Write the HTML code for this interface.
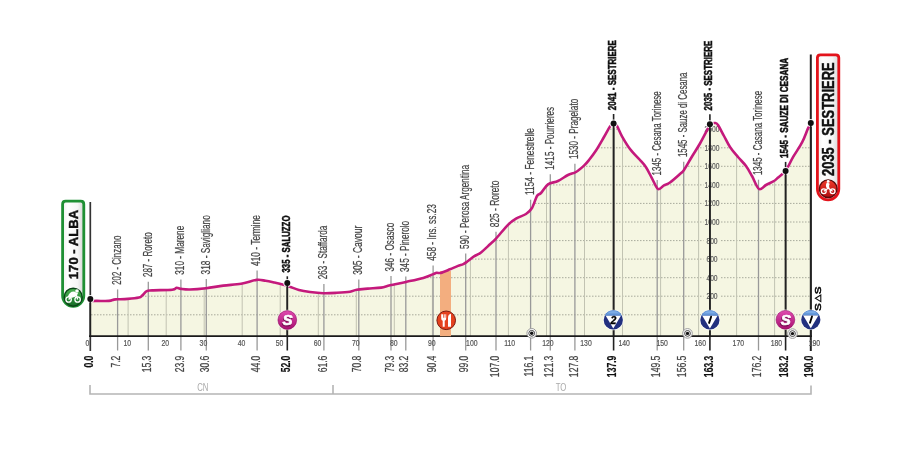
<!DOCTYPE html>
<html><head><meta charset="utf-8"><style>
html,body{margin:0;padding:0;background:#fff;width:900px;height:450px;overflow:hidden}
svg{display:block;will-change:transform}
text{font-family:"Liberation Sans",sans-serif}
</style></head><body>
<svg width="900" height="450" viewBox="0 0 900 450">
<defs>
<linearGradient id="gS" x1="0" y1="0" x2="0" y2="1"><stop offset="0" stop-color="#e04bb0"/><stop offset="1" stop-color="#a8106f"/></linearGradient>
<linearGradient id="gB" x1="0" y1="0" x2="0" y2="1"><stop offset="0" stop-color="#5b8fd6"/><stop offset="0.45" stop-color="#2a3f9a"/><stop offset="1" stop-color="#1d2a78"/></linearGradient>
<linearGradient id="gG" x1="0" y1="0" x2="0" y2="1"><stop offset="0" stop-color="#4cb252"/><stop offset="0.6" stop-color="#2a8a38"/><stop offset="1" stop-color="#166a26"/></linearGradient>
<linearGradient id="gR" x1="0" y1="0" x2="0" y2="1"><stop offset="0" stop-color="#f03a2a"/><stop offset="1" stop-color="#b00d10"/></linearGradient>
<linearGradient id="gBox" x1="0" y1="0" x2="1" y2="0"><stop offset="0" stop-color="#f0f0f0"/><stop offset="0.25" stop-color="#ffffff"/><stop offset="0.7" stop-color="#f6f6f6"/><stop offset="1" stop-color="#d6d6d6"/></linearGradient>
</defs>

<path d="M90,336.2 L90.00,301.00 C91.12,300.98 93.55,300.92 96.70,300.90 C99.85,300.88 106.03,301.12 108.90,300.90 C111.77,300.68 112.52,299.87 113.90,299.60 C115.28,299.33 114.88,299.42 117.20,299.30 C119.52,299.18 124.18,299.20 127.80,298.90 C131.42,298.60 136.50,298.05 138.90,297.50 C141.30,296.95 140.90,296.65 142.20,295.60 C143.50,294.55 145.03,292.07 146.70,291.20 C148.37,290.33 147.95,290.65 152.20,290.40 C156.45,290.15 168.12,290.13 172.20,289.70 C176.28,289.27 175.22,287.93 176.70,287.80 C178.18,287.67 178.88,288.62 181.10,288.90 C183.32,289.18 185.83,289.62 190.00,289.50 C194.17,289.38 200.55,288.85 206.10,288.20 C211.65,287.55 217.47,286.35 223.30,285.60 C229.13,284.85 235.53,284.65 241.10,283.70 C246.67,282.75 252.62,280.38 256.70,279.90 C260.78,279.42 262.65,280.35 265.60,280.80 C268.55,281.25 271.27,281.90 274.40,282.60 C277.53,283.30 281.80,284.32 284.40,285.00 C287.00,285.68 287.58,285.87 290.00,286.70 C292.42,287.53 295.57,289.12 298.90,290.00 C302.23,290.88 305.93,291.47 310.00,292.00 C314.07,292.53 318.85,293.07 323.30,293.20 C327.75,293.33 332.25,293.05 336.70,292.80 C341.15,292.55 346.67,292.22 350.00,291.70 C353.33,291.18 353.73,290.22 356.70,289.70 C359.67,289.18 363.73,288.95 367.80,288.60 C371.87,288.25 377.40,288.15 381.10,287.60 C384.80,287.05 385.85,286.25 390.00,285.30 C394.15,284.35 400.45,283.13 406.00,281.90 C411.55,280.67 418.85,279.15 423.30,277.90 C427.75,276.65 430.47,275.25 432.70,274.40 C434.93,273.55 435.37,273.05 436.70,272.80 C438.03,272.55 438.48,273.48 440.70,272.90 C442.92,272.32 447.12,270.47 450.00,269.30 C452.88,268.13 455.78,266.75 458.00,265.90 C460.22,265.05 461.63,265.02 463.30,264.20 C464.97,263.38 466.22,262.30 468.00,261.00 C469.78,259.70 471.88,257.78 474.00,256.40 C476.12,255.02 478.03,254.72 480.70,252.70 C483.37,250.68 487.45,246.65 490.00,244.30 C492.55,241.95 493.00,241.85 496.00,238.60 C499.00,235.35 504.67,228.13 508.00,224.80 C511.33,221.47 513.00,220.40 516.00,218.60 C519.00,216.80 523.33,215.77 526.00,214.00 C528.67,212.23 530.17,211.00 532.00,208.00 C533.83,205.00 535.50,198.50 537.00,196.00 C538.50,193.50 539.17,194.93 541.00,193.00 C542.83,191.07 545.17,186.40 548.00,184.40 C550.83,182.40 554.67,182.57 558.00,181.00 C561.33,179.43 565.00,176.50 568.00,175.00 C571.00,173.50 573.33,173.57 576.00,172.00 C578.67,170.43 581.83,167.60 584.00,165.60 C586.17,163.60 587.00,162.52 589.00,160.00 C591.00,157.48 593.50,154.33 596.00,150.50 C598.50,146.67 601.67,141.00 604.00,137.00 C606.33,133.00 608.40,128.73 610.00,126.50 C611.60,124.27 612.43,123.68 613.60,123.60 C614.77,123.52 615.60,123.88 617.00,126.00 C618.40,128.12 619.83,132.47 622.00,136.30 C624.17,140.13 627.00,145.05 630.00,149.00 C633.00,152.95 637.33,156.95 640.00,160.00 C642.67,163.05 644.00,164.25 646.00,167.30 C648.00,170.35 650.00,174.68 652.00,178.30 C654.00,181.92 656.00,187.83 658.00,189.00 C660.00,190.17 662.00,186.38 664.00,185.30 C666.00,184.22 667.33,184.38 670.00,182.50 C672.67,180.62 677.67,176.08 680.00,174.00 C682.33,171.92 682.00,172.92 684.00,170.00 C686.00,167.08 689.33,160.92 692.00,156.50 C694.67,152.08 697.50,147.87 700.00,143.50 C702.50,139.13 705.33,133.48 707.00,130.30 C708.67,127.12 708.67,125.62 710.00,124.40 C711.33,123.18 713.67,122.90 715.00,123.00 C716.33,123.10 716.50,122.83 718.00,125.00 C719.50,127.17 722.00,132.33 724.00,136.00 C726.00,139.67 727.67,143.50 730.00,147.00 C732.33,150.50 735.33,153.83 738.00,157.00 C740.67,160.17 743.67,162.83 746.00,166.00 C748.33,169.17 749.83,172.17 752.00,176.00 C754.17,179.83 756.67,187.50 759.00,189.00 C761.33,190.50 763.50,186.33 766.00,185.00 C768.50,183.67 772.03,182.20 774.00,181.00 C775.97,179.80 775.87,179.52 777.80,177.80 C779.73,176.08 783.02,174.22 785.60,170.70 C788.18,167.18 790.53,161.45 793.30,156.70 C796.07,151.95 799.78,146.83 802.20,142.20 C804.62,137.57 806.38,132.02 807.80,128.90 C809.22,125.78 810.22,124.40 810.70,123.50 L810.7,336.2 Z" fill="#f5f6e2"/>
<clipPath id="cp"><path d="M90,336.2 L90.00,301.00 C91.12,300.98 93.55,300.92 96.70,300.90 C99.85,300.88 106.03,301.12 108.90,300.90 C111.77,300.68 112.52,299.87 113.90,299.60 C115.28,299.33 114.88,299.42 117.20,299.30 C119.52,299.18 124.18,299.20 127.80,298.90 C131.42,298.60 136.50,298.05 138.90,297.50 C141.30,296.95 140.90,296.65 142.20,295.60 C143.50,294.55 145.03,292.07 146.70,291.20 C148.37,290.33 147.95,290.65 152.20,290.40 C156.45,290.15 168.12,290.13 172.20,289.70 C176.28,289.27 175.22,287.93 176.70,287.80 C178.18,287.67 178.88,288.62 181.10,288.90 C183.32,289.18 185.83,289.62 190.00,289.50 C194.17,289.38 200.55,288.85 206.10,288.20 C211.65,287.55 217.47,286.35 223.30,285.60 C229.13,284.85 235.53,284.65 241.10,283.70 C246.67,282.75 252.62,280.38 256.70,279.90 C260.78,279.42 262.65,280.35 265.60,280.80 C268.55,281.25 271.27,281.90 274.40,282.60 C277.53,283.30 281.80,284.32 284.40,285.00 C287.00,285.68 287.58,285.87 290.00,286.70 C292.42,287.53 295.57,289.12 298.90,290.00 C302.23,290.88 305.93,291.47 310.00,292.00 C314.07,292.53 318.85,293.07 323.30,293.20 C327.75,293.33 332.25,293.05 336.70,292.80 C341.15,292.55 346.67,292.22 350.00,291.70 C353.33,291.18 353.73,290.22 356.70,289.70 C359.67,289.18 363.73,288.95 367.80,288.60 C371.87,288.25 377.40,288.15 381.10,287.60 C384.80,287.05 385.85,286.25 390.00,285.30 C394.15,284.35 400.45,283.13 406.00,281.90 C411.55,280.67 418.85,279.15 423.30,277.90 C427.75,276.65 430.47,275.25 432.70,274.40 C434.93,273.55 435.37,273.05 436.70,272.80 C438.03,272.55 438.48,273.48 440.70,272.90 C442.92,272.32 447.12,270.47 450.00,269.30 C452.88,268.13 455.78,266.75 458.00,265.90 C460.22,265.05 461.63,265.02 463.30,264.20 C464.97,263.38 466.22,262.30 468.00,261.00 C469.78,259.70 471.88,257.78 474.00,256.40 C476.12,255.02 478.03,254.72 480.70,252.70 C483.37,250.68 487.45,246.65 490.00,244.30 C492.55,241.95 493.00,241.85 496.00,238.60 C499.00,235.35 504.67,228.13 508.00,224.80 C511.33,221.47 513.00,220.40 516.00,218.60 C519.00,216.80 523.33,215.77 526.00,214.00 C528.67,212.23 530.17,211.00 532.00,208.00 C533.83,205.00 535.50,198.50 537.00,196.00 C538.50,193.50 539.17,194.93 541.00,193.00 C542.83,191.07 545.17,186.40 548.00,184.40 C550.83,182.40 554.67,182.57 558.00,181.00 C561.33,179.43 565.00,176.50 568.00,175.00 C571.00,173.50 573.33,173.57 576.00,172.00 C578.67,170.43 581.83,167.60 584.00,165.60 C586.17,163.60 587.00,162.52 589.00,160.00 C591.00,157.48 593.50,154.33 596.00,150.50 C598.50,146.67 601.67,141.00 604.00,137.00 C606.33,133.00 608.40,128.73 610.00,126.50 C611.60,124.27 612.43,123.68 613.60,123.60 C614.77,123.52 615.60,123.88 617.00,126.00 C618.40,128.12 619.83,132.47 622.00,136.30 C624.17,140.13 627.00,145.05 630.00,149.00 C633.00,152.95 637.33,156.95 640.00,160.00 C642.67,163.05 644.00,164.25 646.00,167.30 C648.00,170.35 650.00,174.68 652.00,178.30 C654.00,181.92 656.00,187.83 658.00,189.00 C660.00,190.17 662.00,186.38 664.00,185.30 C666.00,184.22 667.33,184.38 670.00,182.50 C672.67,180.62 677.67,176.08 680.00,174.00 C682.33,171.92 682.00,172.92 684.00,170.00 C686.00,167.08 689.33,160.92 692.00,156.50 C694.67,152.08 697.50,147.87 700.00,143.50 C702.50,139.13 705.33,133.48 707.00,130.30 C708.67,127.12 708.67,125.62 710.00,124.40 C711.33,123.18 713.67,122.90 715.00,123.00 C716.33,123.10 716.50,122.83 718.00,125.00 C719.50,127.17 722.00,132.33 724.00,136.00 C726.00,139.67 727.67,143.50 730.00,147.00 C732.33,150.50 735.33,153.83 738.00,157.00 C740.67,160.17 743.67,162.83 746.00,166.00 C748.33,169.17 749.83,172.17 752.00,176.00 C754.17,179.83 756.67,187.50 759.00,189.00 C761.33,190.50 763.50,186.33 766.00,185.00 C768.50,183.67 772.03,182.20 774.00,181.00 C775.97,179.80 775.87,179.52 777.80,177.80 C779.73,176.08 783.02,174.22 785.60,170.70 C788.18,167.18 790.53,161.45 793.30,156.70 C796.07,151.95 799.78,146.83 802.20,142.20 C804.62,137.57 806.38,132.02 807.80,128.90 C809.22,125.78 810.22,124.40 810.70,123.50 L810.7,336.2 Z"/></clipPath>
<g clip-path="url(#cp)">
<line x1="91" y1="314.8" x2="810" y2="314.8" stroke="#a8aa9c" stroke-width="1" stroke-dasharray="1.5 1.5"/>
<line x1="91" y1="296.2" x2="810" y2="296.2" stroke="#a8aa9c" stroke-width="1" stroke-dasharray="1.5 1.5"/>
<line x1="91" y1="277.7" x2="810" y2="277.7" stroke="#a8aa9c" stroke-width="1" stroke-dasharray="1.5 1.5"/>
<line x1="91" y1="259.1" x2="810" y2="259.1" stroke="#a8aa9c" stroke-width="1" stroke-dasharray="1.5 1.5"/>
<line x1="91" y1="240.6" x2="810" y2="240.6" stroke="#a8aa9c" stroke-width="1" stroke-dasharray="1.5 1.5"/>
<line x1="91" y1="222.0" x2="810" y2="222.0" stroke="#a8aa9c" stroke-width="1" stroke-dasharray="1.5 1.5"/>
<line x1="91" y1="203.4" x2="810" y2="203.4" stroke="#a8aa9c" stroke-width="1" stroke-dasharray="1.5 1.5"/>
<line x1="91" y1="184.9" x2="810" y2="184.9" stroke="#a8aa9c" stroke-width="1" stroke-dasharray="1.5 1.5"/>
<line x1="91" y1="166.3" x2="810" y2="166.3" stroke="#a8aa9c" stroke-width="1" stroke-dasharray="1.5 1.5"/>
<line x1="91" y1="147.8" x2="810" y2="147.8" stroke="#a8aa9c" stroke-width="1" stroke-dasharray="1.5 1.5"/>
<line x1="91" y1="129.2" x2="810" y2="129.2" stroke="#a8aa9c" stroke-width="1" stroke-dasharray="1.5 1.5"/>
<line x1="128.1" y1="100" x2="128.1" y2="336.2" stroke="#c2c3b2" stroke-width="1"/>
<line x1="166.2" y1="100" x2="166.2" y2="336.2" stroke="#c2c3b2" stroke-width="1"/>
<line x1="204.2" y1="100" x2="204.2" y2="336.2" stroke="#c2c3b2" stroke-width="1"/>
<line x1="242.2" y1="100" x2="242.2" y2="336.2" stroke="#c2c3b2" stroke-width="1"/>
<line x1="280.2" y1="100" x2="280.2" y2="336.2" stroke="#c2c3b2" stroke-width="1"/>
<line x1="318.3" y1="100" x2="318.3" y2="336.2" stroke="#c2c3b2" stroke-width="1"/>
<line x1="356.3" y1="100" x2="356.3" y2="336.2" stroke="#c2c3b2" stroke-width="1"/>
<line x1="394.3" y1="100" x2="394.3" y2="336.2" stroke="#c2c3b2" stroke-width="1"/>
<line x1="432.4" y1="100" x2="432.4" y2="336.2" stroke="#c2c3b2" stroke-width="1"/>
<line x1="470.4" y1="100" x2="470.4" y2="336.2" stroke="#c2c3b2" stroke-width="1"/>
<line x1="508.4" y1="100" x2="508.4" y2="336.2" stroke="#c2c3b2" stroke-width="1"/>
<line x1="546.5" y1="100" x2="546.5" y2="336.2" stroke="#c2c3b2" stroke-width="1"/>
<line x1="584.5" y1="100" x2="584.5" y2="336.2" stroke="#c2c3b2" stroke-width="1"/>
<line x1="622.5" y1="100" x2="622.5" y2="336.2" stroke="#c2c3b2" stroke-width="1"/>
<line x1="660.6" y1="100" x2="660.6" y2="336.2" stroke="#c2c3b2" stroke-width="1"/>
<line x1="698.6" y1="100" x2="698.6" y2="336.2" stroke="#c2c3b2" stroke-width="1"/>
<line x1="736.6" y1="100" x2="736.6" y2="336.2" stroke="#c2c3b2" stroke-width="1"/>
<line x1="774.6" y1="100" x2="774.6" y2="336.2" stroke="#c2c3b2" stroke-width="1"/>
</g>
<rect x="703.5" y="292.7" width="17" height="7" fill="#f5f6e2" clip-path="url(#cp)"/>
<text x="712" y="299.2" font-size="8.4" fill="#5a5a5a" stroke="#5a5a5a" stroke-width="0.2" text-anchor="middle" transform="translate(712,0) scale(0.8,1) translate(-712,0)">200</text>
<rect x="703.5" y="274.2" width="17" height="7" fill="#f5f6e2" clip-path="url(#cp)"/>
<text x="712" y="280.7" font-size="8.4" fill="#5a5a5a" stroke="#5a5a5a" stroke-width="0.2" text-anchor="middle" transform="translate(712,0) scale(0.8,1) translate(-712,0)">400</text>
<rect x="703.5" y="255.6" width="17" height="7" fill="#f5f6e2" clip-path="url(#cp)"/>
<text x="712" y="262.1" font-size="8.4" fill="#5a5a5a" stroke="#5a5a5a" stroke-width="0.2" text-anchor="middle" transform="translate(712,0) scale(0.8,1) translate(-712,0)">600</text>
<rect x="703.5" y="237.1" width="17" height="7" fill="#f5f6e2" clip-path="url(#cp)"/>
<text x="712" y="243.6" font-size="8.4" fill="#5a5a5a" stroke="#5a5a5a" stroke-width="0.2" text-anchor="middle" transform="translate(712,0) scale(0.8,1) translate(-712,0)">800</text>
<rect x="703.5" y="218.5" width="17" height="7" fill="#f5f6e2" clip-path="url(#cp)"/>
<text x="712" y="225.0" font-size="8.4" fill="#5a5a5a" stroke="#5a5a5a" stroke-width="0.2" text-anchor="middle" transform="translate(712,0) scale(0.8,1) translate(-712,0)">1000</text>
<rect x="703.5" y="199.9" width="17" height="7" fill="#f5f6e2" clip-path="url(#cp)"/>
<text x="712" y="206.4" font-size="8.4" fill="#5a5a5a" stroke="#5a5a5a" stroke-width="0.2" text-anchor="middle" transform="translate(712,0) scale(0.8,1) translate(-712,0)">1200</text>
<rect x="703.5" y="181.4" width="17" height="7" fill="#f5f6e2" clip-path="url(#cp)"/>
<text x="712" y="187.9" font-size="8.4" fill="#5a5a5a" stroke="#5a5a5a" stroke-width="0.2" text-anchor="middle" transform="translate(712,0) scale(0.8,1) translate(-712,0)">1400</text>
<rect x="703.5" y="162.8" width="17" height="7" fill="#f5f6e2" clip-path="url(#cp)"/>
<text x="712" y="169.3" font-size="8.4" fill="#5a5a5a" stroke="#5a5a5a" stroke-width="0.2" text-anchor="middle" transform="translate(712,0) scale(0.8,1) translate(-712,0)">1600</text>
<rect x="703.5" y="144.3" width="17" height="7" fill="#f5f6e2" clip-path="url(#cp)"/>
<text x="712" y="150.8" font-size="8.4" fill="#5a5a5a" stroke="#5a5a5a" stroke-width="0.2" text-anchor="middle" transform="translate(712,0) scale(0.8,1) translate(-712,0)">1800</text>
<rect x="703.5" y="125.7" width="17" height="7" fill="#f5f6e2" clip-path="url(#cp)"/>
<text x="712" y="132.2" font-size="8.4" fill="#5a5a5a" stroke="#5a5a5a" stroke-width="0.2" text-anchor="middle" transform="translate(712,0) scale(0.8,1) translate(-712,0)">2000</text>
<line x1="117.6" y1="289.4" x2="117.6" y2="350.5" stroke="#999" stroke-width="1.3"/>
<line x1="148.3" y1="281.7" x2="148.3" y2="350.5" stroke="#999" stroke-width="1.3"/>
<line x1="180.9" y1="279.4" x2="180.9" y2="350.5" stroke="#999" stroke-width="1.3"/>
<line x1="206.3" y1="279.0" x2="206.3" y2="350.5" stroke="#999" stroke-width="1.3"/>
<line x1="257.1" y1="270.6" x2="257.1" y2="350.5" stroke="#999" stroke-width="1.3"/>
<line x1="287.3" y1="276.3" x2="287.3" y2="350.5" stroke="#222" stroke-width="1.6"/>
<line x1="323.9" y1="283.9" x2="323.9" y2="350.5" stroke="#999" stroke-width="1.3"/>
<line x1="358.8" y1="279.4" x2="358.8" y2="350.5" stroke="#999" stroke-width="1.3"/>
<line x1="391.0" y1="276.1" x2="391.0" y2="350.5" stroke="#999" stroke-width="1.3"/>
<line x1="405.8" y1="276.6" x2="405.8" y2="350.5" stroke="#999" stroke-width="1.3"/>
<line x1="433.1" y1="265.4" x2="433.1" y2="350.5" stroke="#999" stroke-width="1.3"/>
<line x1="465.7" y1="253.5" x2="465.7" y2="350.5" stroke="#999" stroke-width="1.3"/>
<line x1="496.0" y1="231.8" x2="496.0" y2="350.5" stroke="#999" stroke-width="1.3"/>
<line x1="530.6" y1="199.7" x2="530.6" y2="350.5" stroke="#999" stroke-width="1.3"/>
<line x1="550.3" y1="174.3" x2="550.3" y2="350.5" stroke="#999" stroke-width="1.3"/>
<line x1="574.9" y1="163.7" x2="574.9" y2="350.5" stroke="#999" stroke-width="1.3"/>
<line x1="613.6" y1="114.0" x2="613.6" y2="350.5" stroke="#222" stroke-width="1.6"/>
<line x1="657.2" y1="180.0" x2="657.2" y2="350.5" stroke="#999" stroke-width="1.3"/>
<line x1="683.7" y1="161.7" x2="683.7" y2="350.5" stroke="#999" stroke-width="1.3"/>
<line x1="709.9" y1="114.2" x2="709.9" y2="350.5" stroke="#222" stroke-width="1.6"/>
<line x1="758.5" y1="179.7" x2="758.5" y2="350.5" stroke="#999" stroke-width="1.3"/>
<line x1="785.6" y1="161.9" x2="785.6" y2="350.5" stroke="#222" stroke-width="1.6"/>
<line x1="90.3" y1="202" x2="90.3" y2="351" stroke="#333" stroke-width="1.7"/>
<line x1="810.8" y1="54.5" x2="810.8" y2="351" stroke="#222" stroke-width="2"/>
<line x1="89" y1="336.2" x2="812" y2="336.2" stroke="#1a1a1a" stroke-width="1.8"/>
<rect x="440" y="271" width="11" height="65.2" fill="#f3ae7f"/>
<path d="M90.00,301.00 C91.12,300.98 93.55,300.92 96.70,300.90 C99.85,300.88 106.03,301.12 108.90,300.90 C111.77,300.68 112.52,299.87 113.90,299.60 C115.28,299.33 114.88,299.42 117.20,299.30 C119.52,299.18 124.18,299.20 127.80,298.90 C131.42,298.60 136.50,298.05 138.90,297.50 C141.30,296.95 140.90,296.65 142.20,295.60 C143.50,294.55 145.03,292.07 146.70,291.20 C148.37,290.33 147.95,290.65 152.20,290.40 C156.45,290.15 168.12,290.13 172.20,289.70 C176.28,289.27 175.22,287.93 176.70,287.80 C178.18,287.67 178.88,288.62 181.10,288.90 C183.32,289.18 185.83,289.62 190.00,289.50 C194.17,289.38 200.55,288.85 206.10,288.20 C211.65,287.55 217.47,286.35 223.30,285.60 C229.13,284.85 235.53,284.65 241.10,283.70 C246.67,282.75 252.62,280.38 256.70,279.90 C260.78,279.42 262.65,280.35 265.60,280.80 C268.55,281.25 271.27,281.90 274.40,282.60 C277.53,283.30 281.80,284.32 284.40,285.00 C287.00,285.68 287.58,285.87 290.00,286.70 C292.42,287.53 295.57,289.12 298.90,290.00 C302.23,290.88 305.93,291.47 310.00,292.00 C314.07,292.53 318.85,293.07 323.30,293.20 C327.75,293.33 332.25,293.05 336.70,292.80 C341.15,292.55 346.67,292.22 350.00,291.70 C353.33,291.18 353.73,290.22 356.70,289.70 C359.67,289.18 363.73,288.95 367.80,288.60 C371.87,288.25 377.40,288.15 381.10,287.60 C384.80,287.05 385.85,286.25 390.00,285.30 C394.15,284.35 400.45,283.13 406.00,281.90 C411.55,280.67 418.85,279.15 423.30,277.90 C427.75,276.65 430.47,275.25 432.70,274.40 C434.93,273.55 435.37,273.05 436.70,272.80 C438.03,272.55 438.48,273.48 440.70,272.90 C442.92,272.32 447.12,270.47 450.00,269.30 C452.88,268.13 455.78,266.75 458.00,265.90 C460.22,265.05 461.63,265.02 463.30,264.20 C464.97,263.38 466.22,262.30 468.00,261.00 C469.78,259.70 471.88,257.78 474.00,256.40 C476.12,255.02 478.03,254.72 480.70,252.70 C483.37,250.68 487.45,246.65 490.00,244.30 C492.55,241.95 493.00,241.85 496.00,238.60 C499.00,235.35 504.67,228.13 508.00,224.80 C511.33,221.47 513.00,220.40 516.00,218.60 C519.00,216.80 523.33,215.77 526.00,214.00 C528.67,212.23 530.17,211.00 532.00,208.00 C533.83,205.00 535.50,198.50 537.00,196.00 C538.50,193.50 539.17,194.93 541.00,193.00 C542.83,191.07 545.17,186.40 548.00,184.40 C550.83,182.40 554.67,182.57 558.00,181.00 C561.33,179.43 565.00,176.50 568.00,175.00 C571.00,173.50 573.33,173.57 576.00,172.00 C578.67,170.43 581.83,167.60 584.00,165.60 C586.17,163.60 587.00,162.52 589.00,160.00 C591.00,157.48 593.50,154.33 596.00,150.50 C598.50,146.67 601.67,141.00 604.00,137.00 C606.33,133.00 608.40,128.73 610.00,126.50 C611.60,124.27 612.43,123.68 613.60,123.60 C614.77,123.52 615.60,123.88 617.00,126.00 C618.40,128.12 619.83,132.47 622.00,136.30 C624.17,140.13 627.00,145.05 630.00,149.00 C633.00,152.95 637.33,156.95 640.00,160.00 C642.67,163.05 644.00,164.25 646.00,167.30 C648.00,170.35 650.00,174.68 652.00,178.30 C654.00,181.92 656.00,187.83 658.00,189.00 C660.00,190.17 662.00,186.38 664.00,185.30 C666.00,184.22 667.33,184.38 670.00,182.50 C672.67,180.62 677.67,176.08 680.00,174.00 C682.33,171.92 682.00,172.92 684.00,170.00 C686.00,167.08 689.33,160.92 692.00,156.50 C694.67,152.08 697.50,147.87 700.00,143.50 C702.50,139.13 705.33,133.48 707.00,130.30 C708.67,127.12 708.67,125.62 710.00,124.40 C711.33,123.18 713.67,122.90 715.00,123.00 C716.33,123.10 716.50,122.83 718.00,125.00 C719.50,127.17 722.00,132.33 724.00,136.00 C726.00,139.67 727.67,143.50 730.00,147.00 C732.33,150.50 735.33,153.83 738.00,157.00 C740.67,160.17 743.67,162.83 746.00,166.00 C748.33,169.17 749.83,172.17 752.00,176.00 C754.17,179.83 756.67,187.50 759.00,189.00 C761.33,190.50 763.50,186.33 766.00,185.00 C768.50,183.67 772.03,182.20 774.00,181.00 C775.97,179.80 775.87,179.52 777.80,177.80 C779.73,176.08 783.02,174.22 785.60,170.70 C788.18,167.18 790.53,161.45 793.30,156.70 C796.07,151.95 799.78,146.83 802.20,142.20 C804.62,137.57 806.38,132.02 807.80,128.90 C809.22,125.78 810.22,124.40 810.70,123.50" fill="none" stroke="#c4197c" stroke-width="2.6" stroke-linejoin="round" stroke-linecap="round"/>
<circle cx="90.3" cy="299.1" r="4.0" fill="#fff" opacity="0.9"/>
<line x1="90.3" y1="299.1" x2="90.3" y2="336.2" stroke="#222" stroke-width="1.6"/>
<circle cx="90.3" cy="299.1" r="3.0" fill="#111"/>
<circle cx="287.3" cy="283.0" r="4.0" fill="#fff" opacity="0.9"/>
<line x1="287.3" y1="283.0" x2="287.3" y2="336.2" stroke="#222" stroke-width="1.6"/>
<circle cx="287.3" cy="283.0" r="3.0" fill="#111"/>
<circle cx="613.6" cy="123.6" r="4.0" fill="#fff" opacity="0.9"/>
<line x1="613.6" y1="123.6" x2="613.6" y2="336.2" stroke="#222" stroke-width="1.6"/>
<circle cx="613.6" cy="123.6" r="3.0" fill="#111"/>
<circle cx="709.9" cy="124.3" r="4.0" fill="#fff" opacity="0.9"/>
<line x1="709.9" y1="124.3" x2="709.9" y2="336.2" stroke="#222" stroke-width="1.6"/>
<circle cx="709.9" cy="124.3" r="3.0" fill="#111"/>
<circle cx="785.6" cy="170.9" r="4.0" fill="#fff" opacity="0.9"/>
<line x1="785.6" y1="170.9" x2="785.6" y2="336.2" stroke="#222" stroke-width="1.6"/>
<circle cx="785.6" cy="170.9" r="3.0" fill="#111"/>
<circle cx="810.8" cy="122.9" r="4.0" fill="#fff" opacity="0.9"/>
<line x1="810.8" y1="122.9" x2="810.8" y2="336.2" stroke="#222" stroke-width="1.6"/>
<circle cx="810.8" cy="122.9" r="3.0" fill="#111"/>
<text transform="translate(120.9,284.8) rotate(-90)" font-size="12.2" fill="#444" stroke="#444" stroke-width="0.22" textLength="49.1" lengthAdjust="spacingAndGlyphs">202 - Cinzano</text>
<text transform="translate(151.6,277.1) rotate(-90)" font-size="12.2" fill="#444" stroke="#444" stroke-width="0.22" textLength="44.8" lengthAdjust="spacingAndGlyphs">287 - Roreto</text>
<text transform="translate(184.2,274.8) rotate(-90)" font-size="12.2" fill="#444" stroke="#444" stroke-width="0.22" textLength="49.1" lengthAdjust="spacingAndGlyphs">310 - Marene</text>
<text transform="translate(209.6,274.4) rotate(-90)" font-size="12.2" fill="#444" stroke="#444" stroke-width="0.22" textLength="59.2" lengthAdjust="spacingAndGlyphs">318 - Savigliano</text>
<text transform="translate(260.4,266.0) rotate(-90)" font-size="12.2" fill="#444" stroke="#444" stroke-width="0.22" textLength="51.0" lengthAdjust="spacingAndGlyphs">410 - Termine</text>
<text transform="translate(289.5,272.5) rotate(-90)" font-size="10.8" font-weight="bold" fill="#111" stroke="#111" stroke-width="0.5" textLength="57.0" lengthAdjust="spacingAndGlyphs">335 - SALUZZO</text>
<text transform="translate(327.2,279.3) rotate(-90)" font-size="12.2" fill="#444" stroke="#444" stroke-width="0.22" textLength="53.6" lengthAdjust="spacingAndGlyphs">263 - Staffarda</text>
<text transform="translate(362.1,274.8) rotate(-90)" font-size="12.2" fill="#444" stroke="#444" stroke-width="0.22" textLength="49.1" lengthAdjust="spacingAndGlyphs">305 - Cavour</text>
<text transform="translate(394.3,271.5) rotate(-90)" font-size="12.2" fill="#444" stroke="#444" stroke-width="0.22" textLength="48.7" lengthAdjust="spacingAndGlyphs">346 - Osasco</text>
<text transform="translate(409.1,272.0) rotate(-90)" font-size="12.2" fill="#444" stroke="#444" stroke-width="0.22" textLength="51.2" lengthAdjust="spacingAndGlyphs">345 - Pinerolo</text>
<text transform="translate(436.4,260.8) rotate(-90)" font-size="12.2" fill="#444" stroke="#444" stroke-width="0.22" textLength="56.7" lengthAdjust="spacingAndGlyphs">458 - Ins. ss.23</text>
<text transform="translate(469.0,248.9) rotate(-90)" font-size="12.2" fill="#444" stroke="#444" stroke-width="0.22" textLength="84.1" lengthAdjust="spacingAndGlyphs">590 - Perosa Argentina</text>
<text transform="translate(499.3,227.2) rotate(-90)" font-size="12.2" fill="#444" stroke="#444" stroke-width="0.22" textLength="46.5" lengthAdjust="spacingAndGlyphs">825 - Roreto</text>
<text transform="translate(533.9,195.1) rotate(-90)" font-size="12.2" fill="#444" stroke="#444" stroke-width="0.22" textLength="67.0" lengthAdjust="spacingAndGlyphs">1154 - Fenestrelle</text>
<text transform="translate(553.6,169.7) rotate(-90)" font-size="12.2" fill="#444" stroke="#444" stroke-width="0.22" textLength="62.9" lengthAdjust="spacingAndGlyphs">1415 - Pourrieres</text>
<text transform="translate(578.2,159.1) rotate(-90)" font-size="12.2" fill="#444" stroke="#444" stroke-width="0.22" textLength="60.3" lengthAdjust="spacingAndGlyphs">1530 - Pragelato</text>
<text transform="translate(615.8,110.2) rotate(-90)" font-size="10.8" font-weight="bold" fill="#111" stroke="#111" stroke-width="0.5" textLength="70.1" lengthAdjust="spacingAndGlyphs">2041 - SESTRIERE</text>
<text transform="translate(660.5,175.4) rotate(-90)" font-size="12.2" fill="#444" stroke="#444" stroke-width="0.22" textLength="84.1" lengthAdjust="spacingAndGlyphs">1345 - Cesana Torinese</text>
<text transform="translate(687.0,157.1) rotate(-90)" font-size="12.2" fill="#444" stroke="#444" stroke-width="0.22" textLength="84.6" lengthAdjust="spacingAndGlyphs">1545 - Sauze di Cesana</text>
<text transform="translate(712.1,110.4) rotate(-90)" font-size="10.8" font-weight="bold" fill="#111" stroke="#111" stroke-width="0.5" textLength="69.6" lengthAdjust="spacingAndGlyphs">2035 - SESTRIERE</text>
<text transform="translate(761.8,175.1) rotate(-90)" font-size="12.2" fill="#444" stroke="#444" stroke-width="0.22" textLength="84.3" lengthAdjust="spacingAndGlyphs">1345 - Casana Torinese</text>
<text transform="translate(787.8,158.1) rotate(-90)" font-size="10.8" font-weight="bold" fill="#111" stroke="#111" stroke-width="0.5" textLength="100.3" lengthAdjust="spacingAndGlyphs">1545 - SAUZE DI CESANA</text>
<text x="85.4" y="345.6" font-size="8.6" fill="#555" stroke="#555" stroke-width="0.2" text-anchor="start" transform="translate(85.4,0) scale(0.8,1) translate(-85.4,0)">0</text>
<text x="123.5" y="345.6" font-size="8.6" fill="#555" stroke="#555" stroke-width="0.2" text-anchor="start" transform="translate(123.5,0) scale(0.8,1) translate(-123.5,0)">10</text>
<text x="161.5" y="345.6" font-size="8.6" fill="#555" stroke="#555" stroke-width="0.2" text-anchor="start" transform="translate(161.5,0) scale(0.8,1) translate(-161.5,0)">20</text>
<text x="199.6" y="345.6" font-size="8.6" fill="#555" stroke="#555" stroke-width="0.2" text-anchor="start" transform="translate(199.6,0) scale(0.8,1) translate(-199.6,0)">30</text>
<text x="237.7" y="345.6" font-size="8.6" fill="#555" stroke="#555" stroke-width="0.2" text-anchor="start" transform="translate(237.7,0) scale(0.8,1) translate(-237.7,0)">40</text>
<text x="275.8" y="345.6" font-size="8.6" fill="#555" stroke="#555" stroke-width="0.2" text-anchor="start" transform="translate(275.8,0) scale(0.8,1) translate(-275.8,0)">50</text>
<text x="313.8" y="345.6" font-size="8.6" fill="#555" stroke="#555" stroke-width="0.2" text-anchor="start" transform="translate(313.8,0) scale(0.8,1) translate(-313.8,0)">60</text>
<text x="351.9" y="345.6" font-size="8.6" fill="#555" stroke="#555" stroke-width="0.2" text-anchor="start" transform="translate(351.9,0) scale(0.8,1) translate(-351.9,0)">70</text>
<text x="390.0" y="345.6" font-size="8.6" fill="#555" stroke="#555" stroke-width="0.2" text-anchor="start" transform="translate(390.0,0) scale(0.8,1) translate(-390.0,0)">80</text>
<text x="428.0" y="345.6" font-size="8.6" fill="#555" stroke="#555" stroke-width="0.2" text-anchor="start" transform="translate(428.0,0) scale(0.8,1) translate(-428.0,0)">90</text>
<text x="466.1" y="345.6" font-size="8.6" fill="#555" stroke="#555" stroke-width="0.2" text-anchor="start" transform="translate(466.1,0) scale(0.8,1) translate(-466.1,0)">100</text>
<text x="504.2" y="345.6" font-size="8.6" fill="#555" stroke="#555" stroke-width="0.2" text-anchor="start" transform="translate(504.2,0) scale(0.8,1) translate(-504.2,0)">110</text>
<text x="542.2" y="345.6" font-size="8.6" fill="#555" stroke="#555" stroke-width="0.2" text-anchor="start" transform="translate(542.2,0) scale(0.8,1) translate(-542.2,0)">120</text>
<text x="580.3" y="345.6" font-size="8.6" fill="#555" stroke="#555" stroke-width="0.2" text-anchor="start" transform="translate(580.3,0) scale(0.8,1) translate(-580.3,0)">130</text>
<text x="618.4" y="345.6" font-size="8.6" fill="#555" stroke="#555" stroke-width="0.2" text-anchor="start" transform="translate(618.4,0) scale(0.8,1) translate(-618.4,0)">140</text>
<text x="656.4" y="345.6" font-size="8.6" fill="#555" stroke="#555" stroke-width="0.2" text-anchor="start" transform="translate(656.4,0) scale(0.8,1) translate(-656.4,0)">150</text>
<text x="694.5" y="345.6" font-size="8.6" fill="#555" stroke="#555" stroke-width="0.2" text-anchor="start" transform="translate(694.5,0) scale(0.8,1) translate(-694.5,0)">160</text>
<text x="732.6" y="345.6" font-size="8.6" fill="#555" stroke="#555" stroke-width="0.2" text-anchor="start" transform="translate(732.6,0) scale(0.8,1) translate(-732.6,0)">170</text>
<text x="770.7" y="345.6" font-size="8.6" fill="#555" stroke="#555" stroke-width="0.2" text-anchor="start" transform="translate(770.7,0) scale(0.8,1) translate(-770.7,0)">180</text>
<text x="808.7" y="345.6" font-size="8.6" fill="#555" stroke="#555" stroke-width="0.2" text-anchor="start" transform="translate(808.7,0) scale(0.8,1) translate(-808.7,0)">190</text>
<text transform="translate(92.9,355.7) rotate(-90) scale(0.72,1)" font-size="11.9" font-weight="bold" fill="#111" stroke="#111" stroke-width="0.2" text-anchor="end">0.0</text>
<text transform="translate(120.2,355.7) rotate(-90) scale(0.72,1)" font-size="11.9" fill="#444" stroke="#444" stroke-width="0.25" text-anchor="end">7.2</text>
<text transform="translate(150.9,355.7) rotate(-90) scale(0.72,1)" font-size="11.9" fill="#444" stroke="#444" stroke-width="0.25" text-anchor="end">15.3</text>
<text transform="translate(183.5,355.7) rotate(-90) scale(0.72,1)" font-size="11.9" fill="#444" stroke="#444" stroke-width="0.25" text-anchor="end">23.9</text>
<text transform="translate(208.9,355.7) rotate(-90) scale(0.72,1)" font-size="11.9" fill="#444" stroke="#444" stroke-width="0.25" text-anchor="end">30.6</text>
<text transform="translate(259.7,355.7) rotate(-90) scale(0.72,1)" font-size="11.9" fill="#444" stroke="#444" stroke-width="0.25" text-anchor="end">44.0</text>
<text transform="translate(289.9,355.7) rotate(-90) scale(0.72,1)" font-size="11.9" font-weight="bold" fill="#111" stroke="#111" stroke-width="0.2" text-anchor="end">52.0</text>
<text transform="translate(326.5,355.7) rotate(-90) scale(0.72,1)" font-size="11.9" fill="#444" stroke="#444" stroke-width="0.25" text-anchor="end">61.6</text>
<text transform="translate(361.4,355.7) rotate(-90) scale(0.72,1)" font-size="11.9" fill="#444" stroke="#444" stroke-width="0.25" text-anchor="end">70.8</text>
<text transform="translate(393.6,355.7) rotate(-90) scale(0.72,1)" font-size="11.9" fill="#444" stroke="#444" stroke-width="0.25" text-anchor="end">79.3</text>
<text transform="translate(408.4,355.7) rotate(-90) scale(0.72,1)" font-size="11.9" fill="#444" stroke="#444" stroke-width="0.25" text-anchor="end">83.2</text>
<text transform="translate(435.7,355.7) rotate(-90) scale(0.72,1)" font-size="11.9" fill="#444" stroke="#444" stroke-width="0.25" text-anchor="end">90.4</text>
<text transform="translate(468.3,355.7) rotate(-90) scale(0.72,1)" font-size="11.9" fill="#444" stroke="#444" stroke-width="0.25" text-anchor="end">99.0</text>
<text transform="translate(498.6,355.7) rotate(-90) scale(0.72,1)" font-size="11.9" fill="#444" stroke="#444" stroke-width="0.25" text-anchor="end">107.0</text>
<text transform="translate(533.2,355.7) rotate(-90) scale(0.72,1)" font-size="11.9" fill="#444" stroke="#444" stroke-width="0.25" text-anchor="end">116.1</text>
<text transform="translate(552.9,355.7) rotate(-90) scale(0.72,1)" font-size="11.9" fill="#444" stroke="#444" stroke-width="0.25" text-anchor="end">121.3</text>
<text transform="translate(577.5,355.7) rotate(-90) scale(0.72,1)" font-size="11.9" fill="#444" stroke="#444" stroke-width="0.25" text-anchor="end">127.8</text>
<text transform="translate(616.2,355.7) rotate(-90) scale(0.72,1)" font-size="11.9" font-weight="bold" fill="#111" stroke="#111" stroke-width="0.2" text-anchor="end">137.9</text>
<text transform="translate(659.8,355.7) rotate(-90) scale(0.72,1)" font-size="11.9" fill="#444" stroke="#444" stroke-width="0.25" text-anchor="end">149.5</text>
<text transform="translate(686.3,355.7) rotate(-90) scale(0.72,1)" font-size="11.9" fill="#444" stroke="#444" stroke-width="0.25" text-anchor="end">156.5</text>
<text transform="translate(712.5,355.7) rotate(-90) scale(0.72,1)" font-size="11.9" font-weight="bold" fill="#111" stroke="#111" stroke-width="0.2" text-anchor="end">163.3</text>
<text transform="translate(761.1,355.7) rotate(-90) scale(0.72,1)" font-size="11.9" fill="#444" stroke="#444" stroke-width="0.25" text-anchor="end">176.2</text>
<text transform="translate(788.2,355.7) rotate(-90) scale(0.72,1)" font-size="11.9" font-weight="bold" fill="#111" stroke="#111" stroke-width="0.2" text-anchor="end">183.2</text>
<text transform="translate(813.4,355.7) rotate(-90) scale(0.72,1)" font-size="11.9" font-weight="bold" fill="#111" stroke="#111" stroke-width="0.2" text-anchor="end">190.0</text>
<path d="M90,385 V394 H811 V385.5 M333,385 V394" fill="none" stroke="#b5b5b5" stroke-width="1.6"/>
<text x="202.8" y="391" font-size="10" fill="#aaa" text-anchor="middle" transform="translate(202.8,0) scale(0.78,1) translate(-202.8,0)">CN</text>
<text x="561" y="391" font-size="10" fill="#aaa" text-anchor="middle" transform="translate(561,0) scale(0.78,1) translate(-561,0)">TO</text>
<circle cx="531.7" cy="333.3" r="4.8" fill="#fff" stroke="#9a9a9a" stroke-width="1"/>
<circle cx="531.7" cy="333.3" r="2.9" fill="#fff" stroke="#333" stroke-width="0.9"/>
<circle cx="531.7" cy="333.3" r="1.7" fill="#111"/>
<circle cx="687.5" cy="333.4" r="4.8" fill="#fff" stroke="#9a9a9a" stroke-width="1"/>
<circle cx="687.5" cy="333.4" r="2.9" fill="#fff" stroke="#333" stroke-width="0.9"/>
<circle cx="687.5" cy="333.4" r="1.7" fill="#111"/>
<circle cx="792.5" cy="333.6" r="4.8" fill="#fff" stroke="#9a9a9a" stroke-width="1"/>
<circle cx="792.5" cy="333.6" r="2.9" fill="#fff" stroke="#333" stroke-width="0.9"/>
<circle cx="792.5" cy="333.6" r="1.7" fill="#111"/>
<circle cx="287.3" cy="320" r="10.2" fill="#fff" opacity="0.8"/>
<circle cx="287.3" cy="320" r="9.4" fill="url(#gS)" stroke="#8e0d5c" stroke-width="0.6"/>
<text x="287.1" y="325.8" font-size="15" font-weight="bold" font-style="italic" fill="#5a0a3a" stroke="#5a0a3a" stroke-width="1" text-anchor="middle" opacity="0.7">S</text>
<text x="287.6" y="325.2" font-size="15" font-weight="bold" font-style="italic" fill="#fff" text-anchor="middle" stroke="#fff" stroke-width="0.7">S</text>
<circle cx="785.4" cy="319.8" r="10.2" fill="#fff" opacity="0.8"/>
<circle cx="785.4" cy="319.8" r="9.4" fill="url(#gS)" stroke="#8e0d5c" stroke-width="0.6"/>
<text x="785.1999999999999" y="325.6" font-size="15" font-weight="bold" font-style="italic" fill="#5a0a3a" stroke="#5a0a3a" stroke-width="1" text-anchor="middle" opacity="0.7">S</text>
<text x="785.6999999999999" y="325.0" font-size="15" font-weight="bold" font-style="italic" fill="#fff" text-anchor="middle" stroke="#fff" stroke-width="0.7">S</text>
<circle cx="613.3" cy="320" r="10.3" fill="#fff" opacity="0.85"/>
<circle cx="613.3" cy="320" r="9.6" fill="#22307f"/>
<path d="M604.6999999999999,315.7 A9.6,9.6 0 0 1 621.9,315.7 Z" fill="#5f93d6"/>
<path d="M606.9,313.4 A9.6,9.6 0 0 1 619.6999999999999,313.4 Z" fill="#8fbdf0" opacity="0.6"/>
<path d="M605.6999999999999,315.7 H620.9 L613.3,328.4 Z" fill="#fff"/>
<text x="613.3" y="323.9" font-size="10.5" font-weight="bold" font-style="italic" fill="#000" stroke="#000" stroke-width="0.3" text-anchor="middle">2</text>
<circle cx="709.9" cy="320" r="10.3" fill="#fff" opacity="0.85"/>
<circle cx="709.9" cy="320" r="9.6" fill="#22307f"/>
<path d="M701.3,315.7 A9.6,9.6 0 0 1 718.5,315.7 Z" fill="#5f93d6"/>
<path d="M703.5,313.4 A9.6,9.6 0 0 1 716.3,313.4 Z" fill="#8fbdf0" opacity="0.6"/>
<path d="M702.3,315.7 H717.5 L709.9,328.4 Z" fill="#fff"/>
<path d="M711.1,316.7 L709.1,322.9" stroke="#000" stroke-width="1.9" stroke-linecap="round"/>
<circle cx="810.8" cy="319.8" r="10.3" fill="#fff" opacity="0.85"/>
<circle cx="810.8" cy="319.8" r="9.6" fill="#22307f"/>
<path d="M802.1999999999999,315.5 A9.6,9.6 0 0 1 819.4,315.5 Z" fill="#5f93d6"/>
<path d="M804.4,313.2 A9.6,9.6 0 0 1 817.1999999999999,313.2 Z" fill="#8fbdf0" opacity="0.6"/>
<path d="M803.1999999999999,315.5 H818.4 L810.8,328.2 Z" fill="#fff"/>
<path d="M812.0,316.5 L810.0,322.7" stroke="#000" stroke-width="1.9" stroke-linecap="round"/>
<circle cx="446.2" cy="320.3" r="9.3" fill="#e5421e" stroke="#7a1a10" stroke-width="1"/>
<path d="M441.2,314.3 v4 q0,2 1.5,2.5 v6 h2 v-6 q1.5,-0.5 1.5,-2.5 v-4 h-0.8 v3.5 h-0.7 v-3.5 h-0.8 v3.5 h-0.7 v-3.5 z" fill="#fff"/>
<path d="M448.0,326.8 v-9 q0,-3.5 3,-4 v13 z" fill="#fff"/>
<g transform="translate(821.2,310.6) rotate(-90)" fill="none" stroke="#111" stroke-width="0.8"><text transform="scale(1.35,1)" x="-0.3" y="0" font-size="8.6" fill="#111" stroke="#111" stroke-width="0.6">S</text><path d="M9.0,-0.4 L12.3,-5.8 L15.6,-0.4 Z" stroke-width="1.1"/><text transform="scale(1.35,1)" x="12.1" y="0" font-size="8.6" fill="#111" stroke="#111" stroke-width="0.6">S</text></g>
<path d="M62.6,295.79999999999995 V204.2 Q62.6,201.2 65.6,201.2 H80.8 Q83.8,201.2 83.8,204.2 V295.79999999999995 A10.599999999999998,10.599999999999998 0 0 1 62.6,295.79999999999995 Z" fill="url(#gBox)" stroke="#1f9034" stroke-width="2.8"/>
<text transform="translate(78.4,279.2) rotate(-90)" font-size="13.6" font-weight="bold" fill="#111" stroke="#111" stroke-width="0.45" textLength="69.5" lengthAdjust="spacingAndGlyphs">170 - ALBA</text>
<circle cx="73.2" cy="297.2" r="9.0" fill="url(#gG)" stroke="#0c4418" stroke-width="1.4"/>
<g fill="none" stroke="#fff" stroke-width="1.3"><circle cx="68.60000000000001" cy="299.5" r="2.7"/><circle cx="77.60000000000001" cy="299.5" r="2.7"/></g>
<path d="M68.60000000000001,299.5 L72.2,295.7 L76.60000000000001,295.7 L77.60000000000001,299.5" fill="none" stroke="#fff" stroke-width="1.3"/>
<path d="M67.7,297.0 Q69.2,291.2 74.2,291.4 L78.2,293.4 L75.7,296.4 L72.2,297.7 Z" fill="#fff"/>
<circle cx="77.0" cy="291.0" r="1.8" fill="#fff"/>
<path d="M817.4,189.10000000000002 V57.8 Q817.4,54.8 820.4,54.8 H835.8 Q838.8,54.8 838.8,57.8 V189.10000000000002 A10.699999999999989,10.699999999999989 0 0 1 817.4,189.10000000000002 Z" fill="url(#gBox)" stroke="#e3131b" stroke-width="2.8"/>
<text transform="translate(833.9,176.0) rotate(-90)" font-size="15.6" font-weight="bold" fill="#111" stroke="#111" stroke-width="0.45" textLength="113.6" lengthAdjust="spacingAndGlyphs">2035 - SESTRIERE</text>
<circle cx="828.2" cy="188.7" r="8.8" fill="url(#gR)" stroke="#5a0a0a" stroke-width="1.4"/>
<g fill="none" stroke="#fff" stroke-width="1.3"><circle cx="823.8000000000001" cy="191.29999999999998" r="2.4"/><circle cx="832.6" cy="191.29999999999998" r="2.4"/></g>
<path d="M823.8000000000001,191.29999999999998 L828.2,188.2 L832.6,191.29999999999998" fill="none" stroke="#fff" stroke-width="1.2"/>
<path d="M827.0,182.2 Q824.7,185.7 827.2,188.7 L829.7,188.7 Q828.2,186.2 829.7,183.7 Z" fill="#fff"/>
<circle cx="828.2" cy="181.39999999999998" r="1.4" fill="#fff"/>
</svg></body></html>
